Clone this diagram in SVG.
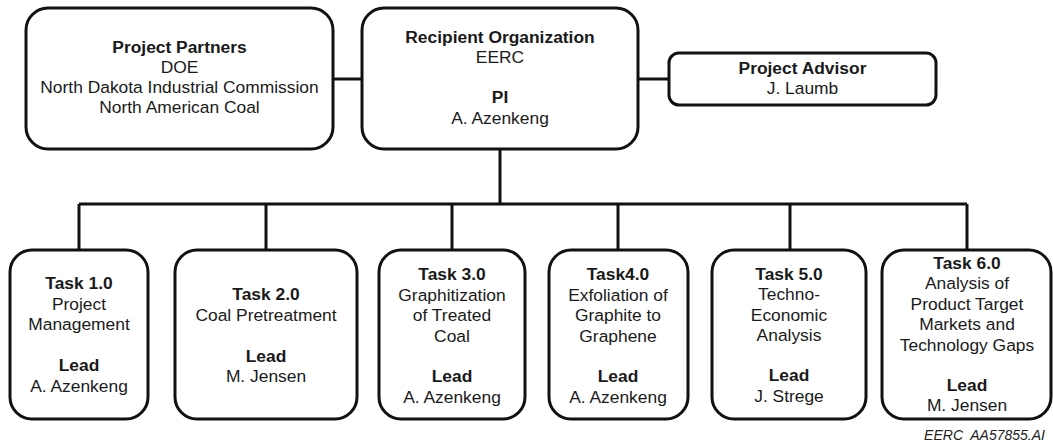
<svg xmlns="http://www.w3.org/2000/svg" width="1053" height="444" viewBox="0 0 1053 444">
<style>
.box{fill:#fff;stroke:#111;stroke-width:3}
.ln{fill:none;stroke:#111;stroke-width:3}
text{font-family:"Liberation Sans",Arial,sans-serif;font-size:17.4px;fill:#1a1a1a;text-anchor:middle}
.b{font-weight:bold}
.foot{font-size:14px;font-style:italic;text-anchor:end;fill:#222}
</style>
<rect width="1053" height="444" fill="#fff"/>
<g id="connectors">
<path class="ln" d="M333 79H362M638 79H669M500 149V204M79 204H967M79 204V250M266 204V250M452 204V250M618 204V250M790 204V250M967 204V250"/>
</g>
<g id="partners">
<rect class="box" x="26" y="8" width="307" height="141" rx="22"/>
<text x="179.5" y="52.5" class="b">Project Partners</text>
<text x="179.5" y="72.8">DOE</text>
<text x="179.5" y="93.1">North Dakota Industrial Commission</text>
<text x="179.5" y="113.4">North American Coal</text>
</g>
<g id="recipient">
<rect class="box" x="362" y="8" width="276" height="141" rx="22"/>
<text x="500" y="42.5" class="b">Recipient Organization</text>
<text x="500" y="62.8">EERC</text>
<text x="500" y="103.4" class="b">PI</text>
<text x="500" y="123.7">A. Azenkeng</text>
</g>
<g id="advisor">
<rect class="box" x="669" y="53" width="267" height="52" rx="10"/>
<text x="802.5" y="74" class="b">Project Advisor</text>
<text x="802.5" y="94">J. Laumb</text>
</g>
<g id="task1">
<rect class="box" x="10" y="250" width="138" height="169" rx="22"/>
<text x="79" y="289" class="b">Task 1.0</text>
<text x="79" y="309.5">Project</text>
<text x="79" y="330">Management</text>
<text x="79" y="371" class="b">Lead</text>
<text x="79" y="391.5">A. Azenkeng</text>
</g>
<g id="task2">
<rect class="box" x="175" y="250" width="182" height="169" rx="22"/>
<text x="266" y="300" class="b">Task 2.0</text>
<text x="266" y="320.5">Coal Pretreatment</text>
<text x="266" y="361.5" class="b">Lead</text>
<text x="266" y="382">M. Jensen</text>
</g>
<g id="task3">
<rect class="box" x="379" y="250" width="146" height="169" rx="22"/>
<text x="452" y="280" class="b">Task 3.0</text>
<text x="452" y="300.5">Graphitization</text>
<text x="452" y="321">of Treated</text>
<text x="452" y="341.5">Coal</text>
<text x="452" y="382" class="b">Lead</text>
<text x="452" y="402.5">A. Azenkeng</text>
</g>
<g id="task4">
<rect class="box" x="549" y="250" width="139" height="169" rx="22"/>
<text x="618" y="280" class="b">Task4.0</text>
<text x="618" y="300.5">Exfoliation of</text>
<text x="618" y="321">Graphite to</text>
<text x="618" y="341.5">Graphene</text>
<text x="618" y="382" class="b">Lead</text>
<text x="618" y="402.5">A. Azenkeng</text>
</g>
<g id="task5">
<rect class="box" x="712" y="250" width="154" height="169" rx="22"/>
<text x="789" y="279.5" class="b">Task 5.0</text>
<text x="789" y="300">Techno-</text>
<text x="789" y="320.5">Economic</text>
<text x="789" y="341">Analysis</text>
<text x="789" y="381" class="b">Lead</text>
<text x="789" y="401.5">J. Strege</text>
</g>
<g id="task6">
<rect class="box" x="882" y="250" width="169" height="169" rx="22"/>
<text x="967" y="268.5" class="b">Task 6.0</text>
<text x="967" y="289">Analysis of</text>
<text x="967" y="309.5">Product Target</text>
<text x="967" y="330">Markets and</text>
<text x="967" y="350.5">Technology Gaps</text>
<text x="967" y="390.5" class="b">Lead</text>
<text x="967" y="411">M. Jensen</text>
</g>
<text class="foot" x="1045" y="440" xml:space="preserve">EERC  AA57855.AI</text>
</svg>
